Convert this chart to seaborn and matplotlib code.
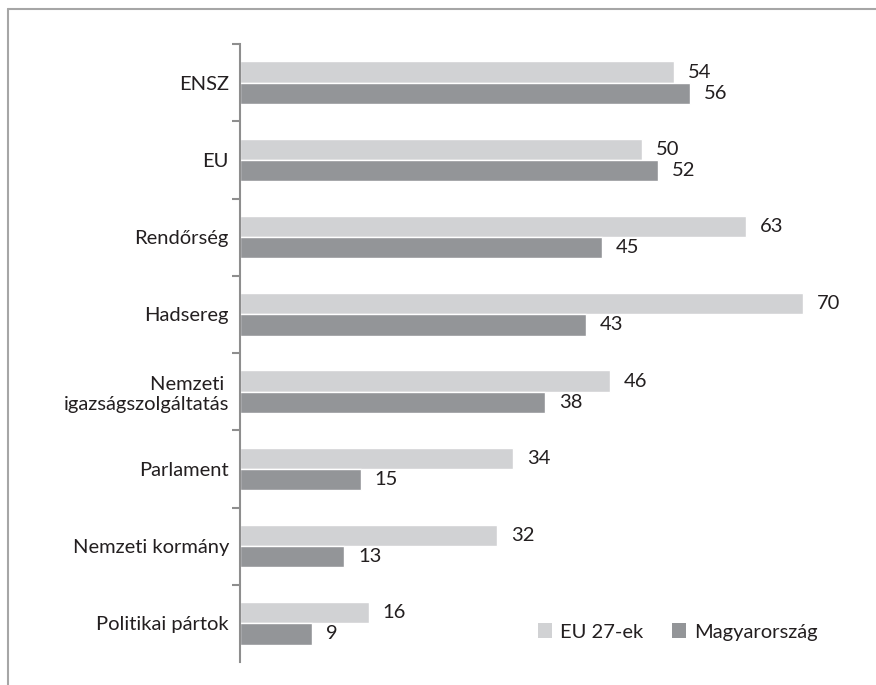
import numpy as np
import pandas as pd
import matplotlib
matplotlib.use("Agg")
import matplotlib.pyplot as plt
import seaborn as sns
from matplotlib.lines import Line2D
from matplotlib.patches import Patch

# data
categories = ["ENSZ", "EU", "Rendőrség", "Hadsereg", "Nemzeti \nigazságszolgáltatás",
              "Parlament", "Nemzeti kormány", "Politikai pártok"]
eu27 = [54, 50, 63, 70, 46, 34, 32, 16]
hungary = [56, 52, 45, 43, 38, 15, 13, 9]
series_names = ["EU 27-ek", "Magyarország"]

df = pd.DataFrame({
    "cat": categories * 2,
    "value": eu27 + hungary,
    "series": [series_names[0]] * len(categories) + [series_names[1]] * len(categories),
})

sns.set_style("white")
plt.rcParams['font.family'] = ['Lato', 'DejaVu Sans']
txt = "#231f20"
light, dark = "#d1d2d4", "#939598"
axis_gray = "#8e8e8e"
fs = 14.5

fig = plt.figure(figsize=(8.76, 6.85), dpi=100)
ax = fig.add_axes([240/876, 1-662/685, 0.962 - 240/876, (662-44)/685])

sns.barplot(data=df, x="value", y="cat", hue="series", orient="h",
            palette=[light, dark], width=0.55, gap=0, saturation=1,
            legend=False, ax=ax)

ax.set_xlim(0, 75)
ax.set_ylim(len(categories) - 0.5, -0.5)
ax.set_xlabel("")
ax.set_ylabel("")
ax.set_xticks([])

for c in ax.containers:
    ax.bar_label(c, padding=10, fontsize=fs, color=txt)

# tick marks sit between categories
ax.set_yticks(np.arange(len(categories)) - 0.5, minor=True)
ax.tick_params(axis="y", which="major", length=0, pad=8, labelsize=fs, labelcolor=txt)
ax.tick_params(axis="y", which="minor", length=6, width=1.5, color=axis_gray, left=True)
for s in ["top", "right", "bottom"]:
    ax.spines[s].set_visible(False)
ax.spines["left"].set_color(axis_gray)
ax.spines["left"].set_linewidth(1.5)

handles = [Patch(facecolor=light, edgecolor="none"), Patch(facecolor=dark, edgecolor="none")]
fig.legend(handles, series_names, loc="center left", bbox_to_anchor=(528/876, 1-632/685),
           ncol=2, frameon=False, fontsize=fs, handlelength=0.7, handleheight=0.7,
           handletextpad=0.4, columnspacing=1.4, borderpad=0, labelcolor=txt)

# outer frame (left and top only are visible)
fig.add_artist(Line2D([8/876, 8/876], [0, 1-9/685], transform=fig.transFigure,
                      color="#a6a6a6", lw=1.5))
fig.add_artist(Line2D([8/876, 1], [1-9/685, 1-9/685], transform=fig.transFigure,
                      color="#a6a6a6", lw=1.5))

fig.savefig("out.png", dpi=100)
